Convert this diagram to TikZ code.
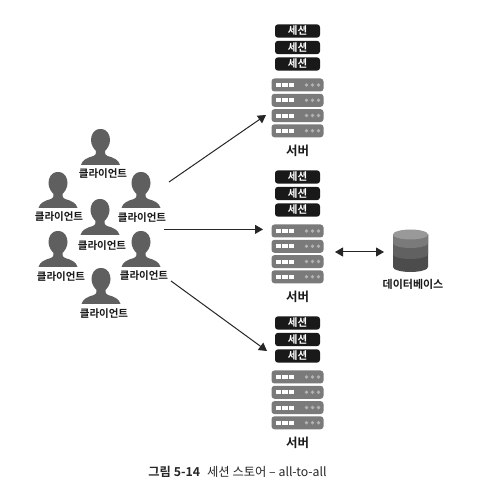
\documentclass[tikz,border=0pt]{standalone}
\usepackage{fontspec}
\setmainfont{Noto Sans CJK KR}
\newfontfamily\krb{Noto Sans CJK KR Bold}
\definecolor{pers}{HTML}{5F5F5F}
\definecolor{srv}{HTML}{7A7A7A}
\usetikzlibrary{arrows.meta}
\tikzset{
 x=1pt,y=-1pt,
 sess/.style={fill=black!90,rounded corners=3pt,minimum width=45pt,minimum height=13.4pt,inner sep=0pt,text=white,font=\krb\fontsize{10.5}{10.5}\selectfont},
 clientlabel/.style={font=\krb\fontsize{10.5}{11}\selectfont,inner sep=0pt,text=black!90},
 dblabel/.style={font=\krb\fontsize{11}{11}\selectfont,inner sep=0pt,text=black!90},
 srvlabel/.style={font=\krb\fontsize{12.5}{13}\selectfont,inner sep=0pt,text=black!90},
 conn/.style={draw=black!85,line width=1pt,-{Triangle[length=8pt,width=9pt]}},
 pics/person/.style={code={
   \fill[pers] (0,0) .. controls (-7.5,0) and (-9.5,7) .. (-9.5,11) .. controls (-9.5,16) and (-6.5,20) .. (-4.5,22) .. controls (-4,25) and (-5,26) .. (-7,27) .. controls (-13,28.5) and (-18.5,31) .. (-19.5,36) -- (19.5,36) .. controls (18.5,31) and (13,28.5) .. (7,27) .. controls (5,26) and (4,25) .. (4.5,22) .. controls (6.5,20) and (9.5,16) .. (9.5,11) .. controls (9.5,7) and (7.5,0) .. (0,0) -- cycle;
 }},
 pics/srvunit/.style={code={
   \fill[srv,rounded corners=3pt] (-26,-6.5) rectangle (26,6.5);
   \foreach \dx in {-19,-12.5,-6}{\fill[white] (\dx-2.6,-2) rectangle (\dx+2.6,2);}
   \foreach \dx in {9,15,21}{\fill[black!30] (\dx,0) circle (1.9pt);}
 }},
 pics/srvgroup/.style={code={
   \node[sess] at (0,0) {세션};
   \node[sess] at (0,16.5) {세션};
   \node[sess] at (0,33) {세션};
   \pic at (0,54) {srvunit};
   \pic at (0,69.3) {srvunit};
   \pic at (0,84.6) {srvunit};
   \pic at (0,99.8) {srvunit};
   \node[srvlabel] at (0,120) {서버};
 }},
}
\begin{document}
\begin{tikzpicture}
\useasboundingbox (0,0) rectangle (504,502);
\fill[white] (0,0) rectangle (504,502);
\pic at (297.5,31) {srvgroup};
\pic at (297.5,177) {srvgroup};
\pic at (297.5,323) {srvgroup};
\pic at (100.5,129) {person};
\pic at (58,172) {person};
\pic at (141,172) {person};
\pic at (100,199) {person};
\pic at (58,231) {person};
\pic at (141,231) {person};
\pic at (101,268) {person};
\node[clientlabel] (c1) at (103,174) {클라이언트};
\node[clientlabel] (c2) at (59,217) {클라이언트};
\node[clientlabel] (c3) at (142,218) {클라이언트};
\node[clientlabel] (c4) at (102,246) {클라이언트};
\node[clientlabel] (c5) at (61,277) {클라이언트};
\node[clientlabel] (c6) at (144,276) {클라이언트};
\node[clientlabel] (c7) at (104,314) {클라이언트};
\coordinate (a1s) at (169,182);
\coordinate (a1e) at (266,115);
\coordinate (a2s) at (164,229.4);
\coordinate (a2e) at (263,229.4);
\coordinate (a3s) at (171,281);
\coordinate (a3e) at (267,351);
\coordinate (d1) at (335,252);
\coordinate (d2) at (384,252);
\draw[conn] (a1s) -- (a1e);
\draw[conn] (a2s) -- (a2e);
\draw[conn] (a3s) -- (a3e);
\draw[conn,{Triangle[length=8pt,width=9pt]}-{Triangle[length=8pt,width=9pt]}] (d1) -- (d2);
% database
\foreach \b/\c in {267/black!70,254/black!62,243/black!52}{
  \fill[\c] (393,234.5) -- (393,\b) arc[start angle=180,end angle=360,x radius=17.5,y radius=-5] -- (428,234.5) -- cycle;
}
\fill[black!40] (410.5,234.5) ellipse [x radius=17.5,y radius=5];
\node[dblabel] (db) at (413,284.5) {데이터베이스};
\node[font=\fontsize{12.3}{13}\selectfont,inner sep=0pt,text=black!85] (cap) at (237.5,472) {{\krb 그림 5-14}\hspace{7pt}세션 스토어 – all-to-all};
\end{tikzpicture}
\end{document}
